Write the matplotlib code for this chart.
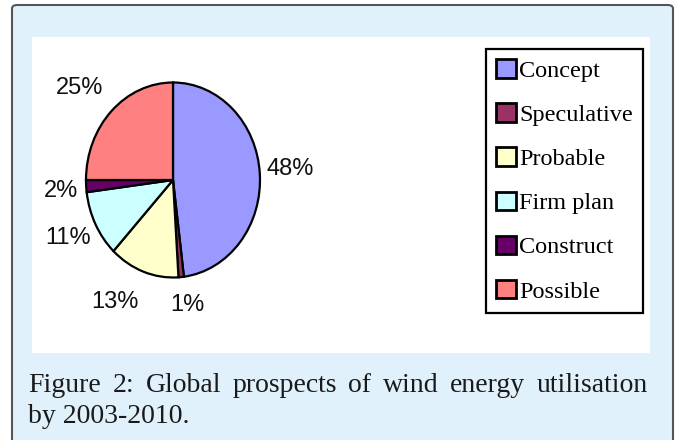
import matplotlib
matplotlib.use("Agg")
import matplotlib.pyplot as plt
from matplotlib.patches import FancyBboxPatch, Rectangle, Patch
import numpy as np

# data
categories = ["Concept", "Speculative", "Probable", "Firm plan", "Construct", "Possible"]
shares = [48, 1, 13, 11, 2, 25]
colors = ["#9999FF", "#993366", "#FFFFCC", "#CCFFFF", "#660066", "#FF8080"]
caption_line1 = "Figure 2: Global prospects of wind energy utilisation"
caption_line2 = "by 2003-2010."

W, H = 679, 440
fig = plt.figure(figsize=(W / 100, H / 100), dpi=100, facecolor="white")


def fx(px):
    return px / W


def fy(py):
    return 1 - py / H


# outer light blue frame
frame = FancyBboxPatch((fx(12), fy(460)), fx(661), (460 - 5) / H,
                       boxstyle="round,pad=0,rounding_size=0.008",
                       transform=fig.transFigure, facecolor="#E0F1FB",
                       edgecolor="#555555", linewidth=1.5, zorder=-2)
fig.patches.append(frame)
# white chart area
fig.patches.append(Rectangle((fx(32), fy(353)), fx(650 - 32), (353 - 37) / H,
                             transform=fig.transFigure, facecolor="white",
                             edgecolor="none", zorder=-1))

# pie
ax = fig.add_axes([fx(86), fy(277.5), fx(174), 195 / H])
ax.set_zorder(2)
wedges, _ = ax.pie(shares, colors=colors, startangle=90, counterclock=False,
                   wedgeprops=dict(edgecolor="black", linewidth=1.6))
ax.set_aspect("auto")
ax.set_xlim(-1, 1)
ax.set_ylim(-1, 1)
ax.axis("off")

# percentage labels, pushed out from each wedge's middle angle
label_dist = [1.35, 1.27, 1.33, 1.3, 1.29, 1.4]
label_nudge = [(0, 0.03), (0.04, -0.02), (-0.22, 0), (-0.05, 0), (0, -0.03), (-0.08, -0.05)]
for w, s, d, (nx, ny) in zip(wedges, shares, label_dist, label_nudge):
    ang = np.deg2rad((w.theta1 + w.theta2) / 2)
    ax.text(d * np.cos(ang) + nx, d * np.sin(ang) + ny, f"{s}%",
            ha="center", va="center", fontsize=17, family="Liberation Sans",
            color="#111111", clip_on=False)

# legend
handles = [Patch(facecolor=c, edgecolor="black", linewidth=2) for c in colors]
leg = fig.legend(handles, categories, loc="upper left",
                 bbox_to_anchor=(fx(486), fy(49)), bbox_transform=fig.transFigure,
                 prop={"family": "Liberation Serif", "size": 17.5},
                 handlelength=0.8, handleheight=0.8, handletextpad=0.15,
                 labelspacing=0.88, borderpad=0.42, borderaxespad=0,
                 fancybox=False, framealpha=1)
leg.get_frame().set_edgecolor("black")
leg.get_frame().set_linewidth(1.6)

# caption, first line justified between x=28 and x=648
renderer = fig.canvas.get_renderer()
words = caption_line1.split()
cap_kw = dict(fontsize=20, family="Liberation Serif", color="#1a1a1a",
              va="baseline", ha="left")
texts = [fig.text(0, fy(392), w_, **cap_kw) for w_ in words]
widths = [t.get_window_extent(renderer).width for t in texts]
gap = (648 - 28 - sum(widths)) / (len(words) - 1)
x = 28
for t, wd in zip(texts, widths):
    t.set_x(fx(x))
    x += wd + gap
fig.text(fx(28), fy(423), caption_line2, **cap_kw)

fig.savefig("out.png", dpi=100, facecolor="white")
